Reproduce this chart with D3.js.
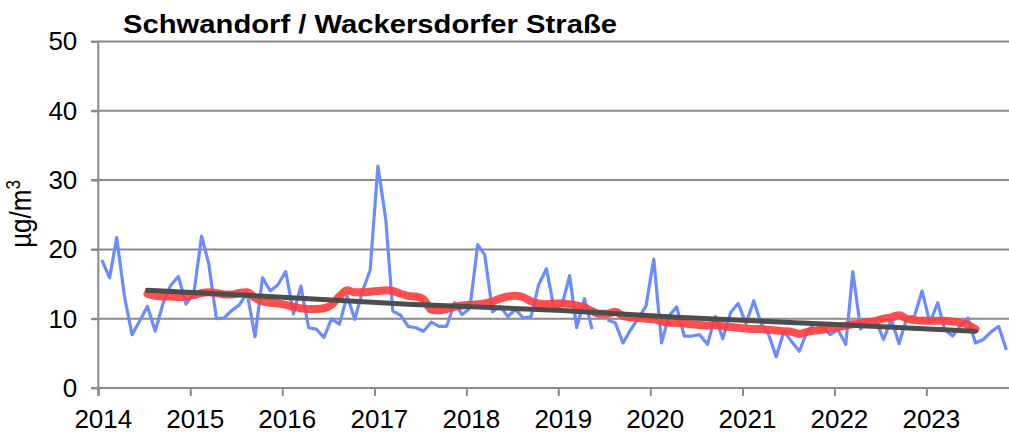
<!DOCTYPE html>
<html>
<head>
<meta charset="utf-8">
<script src="https://cdn.jsdelivr.net/npm/d3@7"></script>
<style>
  body { margin: 0; background: #fff; }
  svg { display: block; font-family: "Liberation Sans", Arial, sans-serif; }
</style>
</head>
<body>
<div id="content"></div>
<script>
// monthly means from Jan 2014 (null = no value)
var monthly = [18.5, 15.9, 21.7, 13.2, 7.7, 9.7, 11.8, 8.2, 12.2, 14.8, 16.1, 12.1,
  13.6, 21.9, 18.0, 10.0, 10.1, 11.2, 12.0, 13.7, 7.4, 15.9, 14.0, 14.9,
  16.8, 10.7, 14.7, 8.7, 8.5, 7.3, 10.0, 9.2, 13.3, 9.9, 14.0, 17.0,
  32.0, 24.4, 11.1, 10.5, 8.9, 8.7, 8.2, 9.5, 8.9, 8.9, 12.3, 10.6,
  11.5, 20.7, 19.2, 11.0, 11.8, 10.3, 11.3, 10.1, 10.3, 14.9, 17.2, 11.5,
  11.9, 16.2, 8.7, 12.9, 8.5, null, 9.8, 9.4, 6.5, 8.4, 10.1, 11.8,
  18.6, 6.5, 10.4, 11.7, 7.5, 7.5, 7.7, 6.3, 10.3, 7.1, 10.9, 12.2,
  9.3, 12.6, 9.4, 7.7, 4.5, 8.2, 6.7, 5.3, 8.2, 9.3, 8.7, 7.7,
  8.4, 6.3, 16.8, 8.5, 9.9, 9.7, 7.0, 9.9, 6.4, 10.1, 10.4, 14.0,
  9.4, 12.3, 8.4, 7.5, 8.9, 10.1, 6.5, 7.0, 8.1, 8.9, 5.5];

// running 12-month mean, starts at month 6 (Jul 2014)
var runStart = 6;
var running = [13.6, 13.3, 13.2, 13.2, 13.1, 13.2,
  13.4, 13.7, 13.8, 13.7, 13.5, 13.5, 13.7, 13.8, 13.0, 12.5, 12.3, 12.2,
  12.0, 11.7, 11.5, 11.4, 11.4, 11.5, 12.0, 13.2, 14.1, 13.8, 13.8, 13.9,
  14.0, 14.1, 14.0, 13.6, 13.3, 13.2, 12.8, 11.3, 11.2, 11.4, 11.7, 11.9,
  12.0, 12.1, 12.2, 12.5, 12.9, 13.2, 13.3, 13.1, 12.5, 12.2, 12.1, 12.2,
  12.2, 12.1, 11.9, 11.6, 11.1, 10.7, 10.7, 11.0, 10.4, 10.2, 10.1, 10.0,
  9.9, 9.6, 9.4, 9.4, 9.3, 9.2, 9.1, 9.0, 9.1, 8.9, 8.8, 8.7,
  8.6, 8.5, 8.5, 8.4, 8.3, 8.2, 8.1, 7.8, 8.1, 8.3, 8.4, 8.6,
  8.8, 9.0, 9.2, 9.3, 9.5, 9.7, 10.0, 10.2, 10.5, 10.0, 9.8, 9.7,
  9.7, 9.7, 9.7, 9.6, 9.4, 9.1, 8.5];

// trend line knots (month index, value)
var trendMonths = [6, 20, 40, 60, 75, 95, 114];
var trendValues = [14.1, 13.3, 12.1, 11.2, 10.2, 9.2, 8.2];

var years = [2014, 2015, 2016, 2017, 2018, 2019, 2020, 2021, 2022, 2023];
var yTicks = [0, 10, 20, 30, 40, 50];
var title = "Schwandorf / Wackersdorfer Straße";

function monthDate(i) { return new Date(2014, i, 15); }

var width = 1009, height = 437;
var svg = d3.select('#content')
  .append('svg')
  .attr('width', width).attr('height', height);

var x = d3.scaleTime()
  .domain([new Date(2014, 0, 1), new Date(2024, 0, 1)])
  .range([98.3, 1018.3]);

var y = d3.scaleLinear()
  .domain([0, 50])
  .range([388, 41.5]);

var gridColor = "#8a8a8a";

// horizontal grid lines
svg.append("g").selectAll("line")
  .data(yTicks)
  .enter().append("line")
  .attr("x1", 91).attr("x2", width)
  .attr("y1", function(d) { return y(d); })
  .attr("y2", function(d) { return y(d); })
  .attr("stroke", gridColor).attr("stroke-width", 2);

// y axis
var yAxis = svg.append("g")
  .attr("transform", "translate(" + x.range()[0] + ",0)")
  .call(d3.axisLeft(y).tickValues(yTicks).tickSize(7).tickPadding(14));
yAxis.select(".domain").attr("stroke", gridColor).attr("stroke-width", 2)
  .attr("d", "M0," + y(50) + "V" + (y(0) + 8));
yAxis.selectAll(".tick line").attr("stroke", gridColor).attr("stroke-width", 2);
yAxis.selectAll("text").attr("font-size", 26).attr("fill", "#000")
  .attr("font-family", "Liberation Sans, Arial, sans-serif");

// x axis, one tick per year
var xAxis = svg.append("g")
  .attr("transform", "translate(0," + y(0) + ")")
  .call(d3.axisBottom(x)
    .tickValues(years.map(function(yr) { return new Date(yr, 0, 1); }))
    .tickFormat(d3.timeFormat("%Y")).tickSize(8));
xAxis.select(".domain").remove();
xAxis.selectAll(".tick line").attr("stroke", gridColor).attr("stroke-width", 2);
xAxis.selectAll("text").attr("font-size", 26).attr("fill", "#000")
  .attr("font-family", "Liberation Sans, Arial, sans-serif")
  .attr("x", 4.5).attr("y", 40).attr("dy", 0);

var line = d3.line()
  .defined(function(d) { return d.v !== null; })
  .x(function(d) { return x(monthDate(d.i)); })
  .y(function(d) { return y(d.v); });

var monthlyData = monthly.map(function(v, i) { return {i: i, v: v}; });
var runningData = running.map(function(v, k) { return {i: runStart + k, v: v}; });
var trendData = trendMonths.map(function(m, k) { return {i: m, v: trendValues[k]}; });

svg.append("path")
  .datum(monthlyData)
  .attr("d", line)
  .attr("fill", "none")
  .attr("stroke", "#6b8cff")
  .attr("stroke-width", 3.2)
  .attr("stroke-linejoin", "round");

svg.append("path")
  .datum(runningData)
  .attr("d", line.curve(d3.curveMonotoneX))
  .attr("fill", "none")
  .attr("stroke", "#ff3b3b")
  .attr("stroke-opacity", 0.9)
  .attr("stroke-width", 8)
  .attr("stroke-linecap", "round")
  .attr("stroke-linejoin", "round");

svg.append("path")
  .datum(trendData)
  .attr("d", line.curve(d3.curveLinear))
  .attr("fill", "none")
  .attr("stroke", "#4d4d4d")
  .attr("stroke-width", 5)
  .attr("stroke-linecap", "round");

// title
svg.append("text")
  .attr("x", 123).attr("y", 33)
  .attr("font-size", 25).attr("font-weight", "bold")
  .attr("textLength", 494).attr("lengthAdjust", "spacingAndGlyphs")
  .text(title);

// unit label with superscript
var unit = svg.append("text")
  .attr("transform", "translate(31,214) rotate(-90) scale(1,1.15)")
  .attr("text-anchor", "middle")
  .attr("font-size", 26);
unit.append("tspan").text("µg/m");
unit.append("tspan").attr("font-size", 17).attr("dy", -10).text("3");
</script>
</body>
</html>
